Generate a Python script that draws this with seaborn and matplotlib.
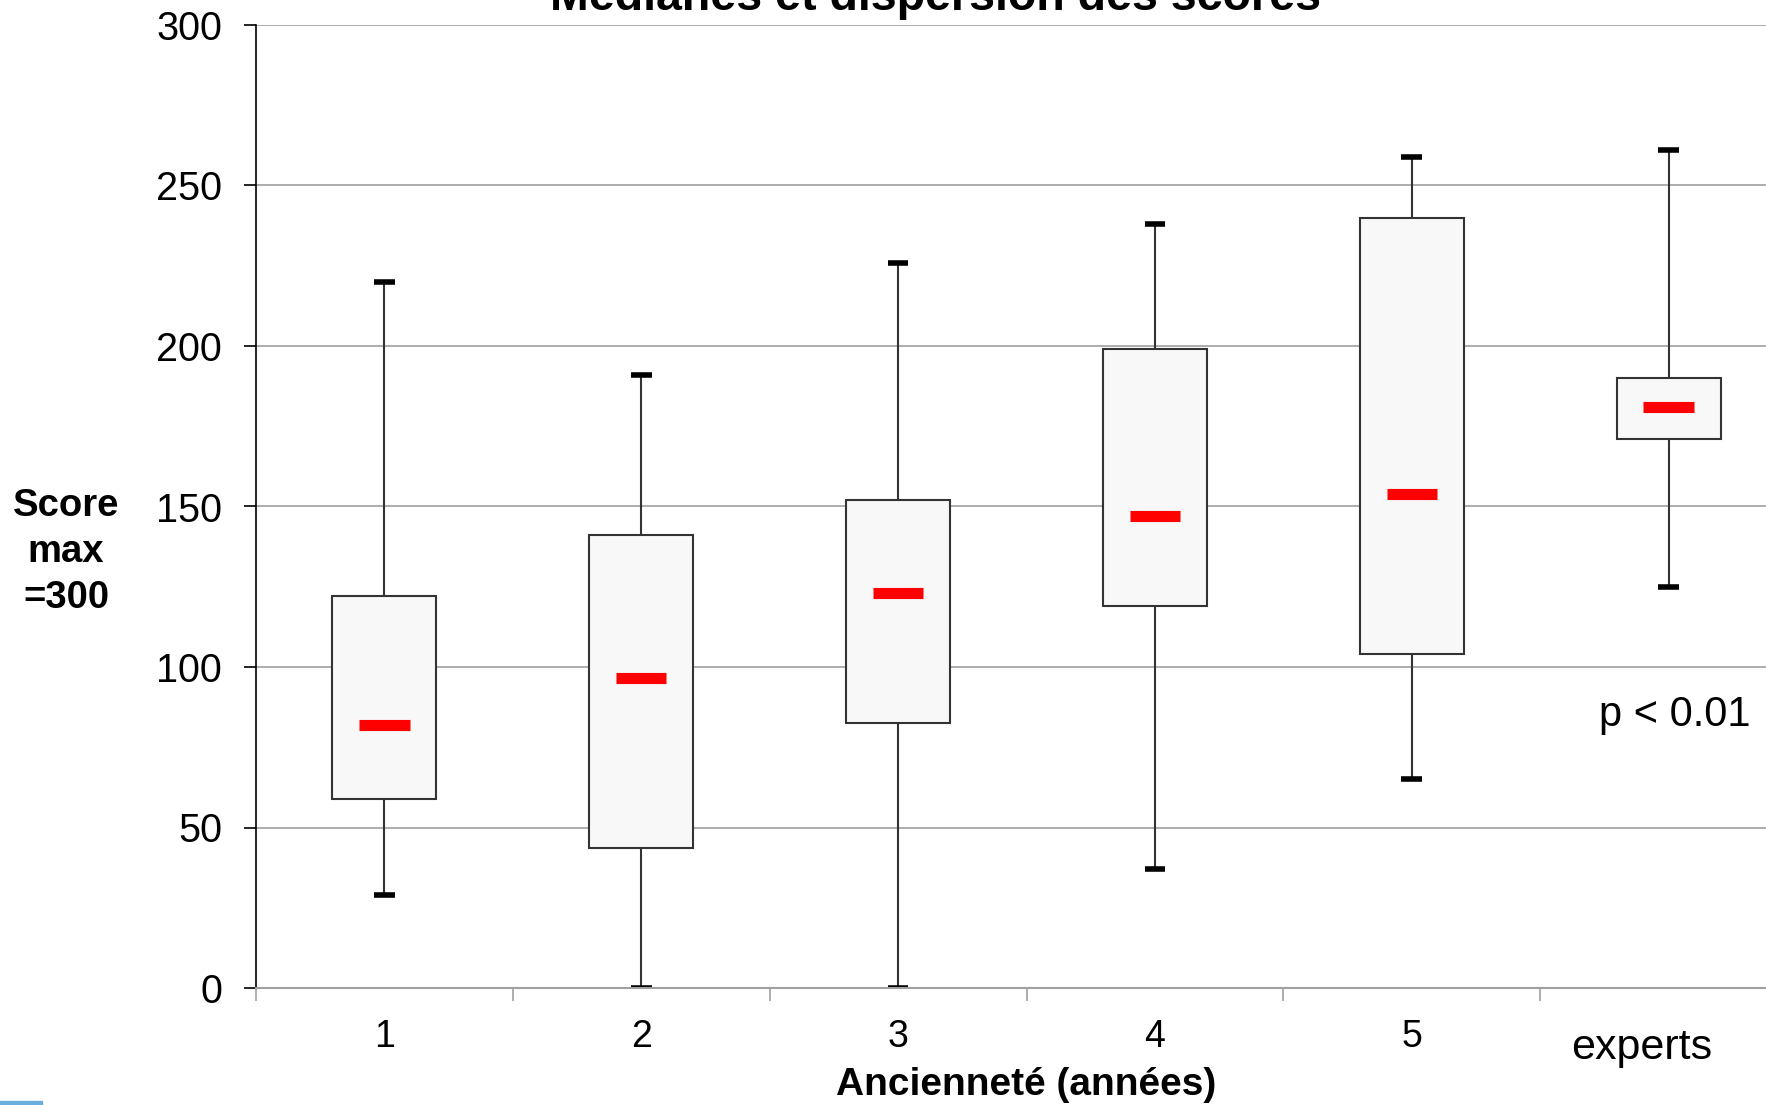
import matplotlib
matplotlib.use("Agg")
import matplotlib.pyplot as plt
from matplotlib.patches import Rectangle
from matplotlib.transforms import ScaledTranslation
import numpy as np
import pandas as pd
import seaborn as sns

# values (score, max 300)
categories = ["1", "2", "3", "4", "5", "experts"]
whisker_low = [29, 0, 0, 37, 65, 125]
q1 = [59, 43.5, 82.5, 119, 104, 171]
medians = [82, 96.5, 123, 147, 154, 181]
q3 = [122, 141, 152, 199, 240, 190]
whisker_high = [220, 191, 226, 238, 259, 261]

# five points per group -> quartiles land exactly on the values above
rows = []
for cat, lo, a, m, b, hi in zip(categories, whisker_low, q1, medians, q3, whisker_high):
    for v in (lo, a, m, b, hi):
        rows.append({"group": cat, "score": v})
df = pd.DataFrame(rows)

sns.set_style("white")
plt.rcParams["font.family"] = ["Liberation Sans", "DejaVu Sans"]
plt.rcParams["text.color"] = "black"
plt.rcParams["axes.labelcolor"] = "black"
plt.rcParams["xtick.color"] = "black"
plt.rcParams["ytick.color"] = "black"

fig = plt.figure(figsize=(17.66, 11.05), dpi=100)
ax = fig.add_axes([256 / 1766, 117 / 1105, 1541 / 1766, 963 / 1105])

sns.boxplot(data=df, x="group", y="score", order=categories, whis=(0, 100),
            width=0.405, color="#f8f8f8", saturation=1, linecolor="#333333",
            linewidth=1.5, showfliers=False, medianprops={"visible": False},
            capprops={"color": "black", "linewidth": 4, "solid_capstyle": "butt"},
            ax=ax)

# shorter caps
for line in ax.lines:
    x, y = line.get_xdata(), line.get_ydata()
    if len(x) == 2 and y[0] == y[1]:
        c = (x[0] + x[1]) / 2
        line.set_xdata([c - 0.04, c + 0.04])

# red median bars
pos = np.arange(len(categories))
ax.hlines(medians, pos - 0.098, pos + 0.098, color="#ff0000", linewidth=8, zorder=5)

ax.set_xlim(-0.5, 5.5)
ax.set_ylim(0, 300)
ax.set_yticks(range(0, 301, 50))
ax.yaxis.grid(True, color="#a0a0a0", linewidth=1.2)
ax.set_axisbelow(True)
for s in ["top", "right"]:
    ax.spines[s].set_visible(False)
ax.spines["left"].set_color("black")
ax.spines["left"].set_linewidth(1.2)
ax.spines["bottom"].set_color("#a0a0a0")
ax.spines["bottom"].set_linewidth(1.5)

ax.tick_params(axis="y", left=True, length=8.5, width=1.2, color="black",
               labelsize=28.5, pad=16)
ax.tick_params(axis="x", which="major", length=0, labelsize=27, pad=22)
ax.set_xticks(np.arange(-0.5, 6, 1), minor=True)
ax.tick_params(axis="x", which="minor", bottom=True, length=9, width=1.2, color="#a0a0a0")

# "experts" label sits a bit lower and left, and is a little larger
lab = ax.get_xticklabels()[-1]
lab.set_fontsize(31)
lab.set_transform(lab.get_transform() + ScaledTranslation(-0.27, -0.09, fig.dpi_scale_trans))

ax.set_xlabel("Ancienneté (années)", fontsize=28, fontweight="bold")
ax.xaxis.label.set_va("center")
ax.xaxis.set_label_coords(0.5, (988 - 1085) / 963)

ax.set_ylabel("Score\nmax\n=300", fontsize=27.5, fontweight="bold", rotation=0,
              ha="center", va="center", linespacing=1.36)
ax.yaxis.set_label_coords((66 - 256) / 1541, (988 - 552) / 963)

fig.text(935 / 1766, 1 - 10 / 1105, "Médianes et dispersion des scores",
         ha="center", va="baseline", fontsize=33.5, fontweight="bold")
fig.text(1599 / 1766, 1 - 715 / 1105, "p < 0.01", ha="left", va="center", fontsize=30)

fig.patches.append(Rectangle((0, 0), 42 / 1766, 4 / 1105, transform=fig.transFigure,
                             color="#6aaee0"))

fig.savefig("out.png", dpi=100)
